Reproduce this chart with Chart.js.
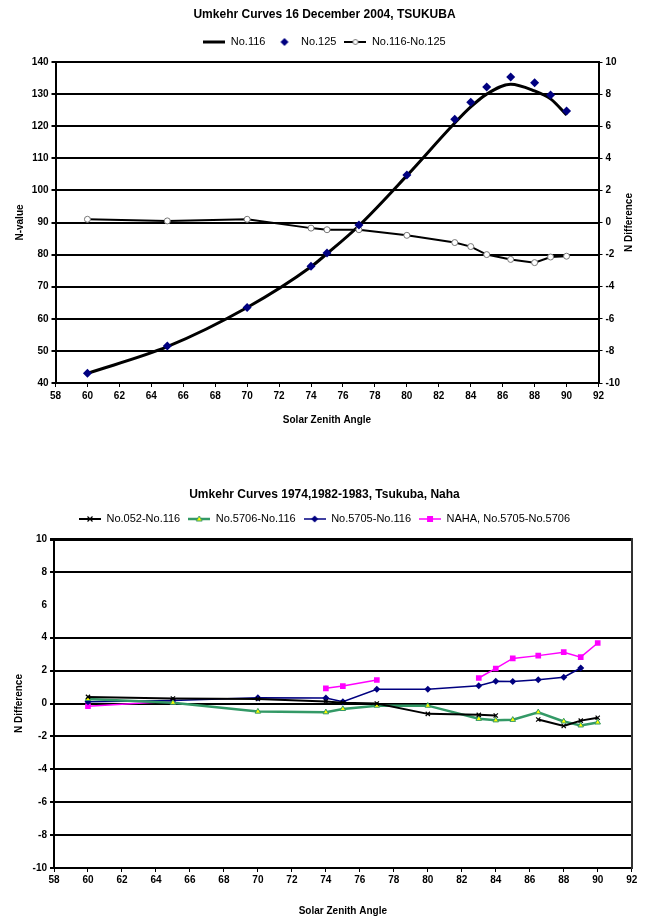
<!DOCTYPE html>
<html>
<head>
<meta charset="utf-8">
<script src="https://cdn.jsdelivr.net/npm/chart.js@4.4.1/dist/chart.umd.min.js"></script>
<style>
  html, body { margin: 0; padding: 0; background: #fff; }
  body { width: 645px; height: 917px; position: relative; overflow: hidden; }
  canvas { position: absolute; left: 0; }
  #top { top: 0; }
  #bottom { top: 470px; }
</style>
</head>
<body>
<canvas id="top" width="645" height="430"></canvas>
<canvas id="bottom" width="645" height="447"></canvas>
<script>
	'use strict';

	// ---- data: top chart (16 Dec 2004, Tsukuba) ----
	var sza = [60, 65, 70, 74, 75, 77, 80, 83, 84, 85, 86.5, 88, 89, 90];
	var no116 = [43, 51.3, 63.5, 76.2, 80.3, 89, 104.6, 121, 126, 130, 133.1, 131, 128.5, 123.5];
	var no125 = [43, 51.5, 63.5, 76.4, 80.5, 89.2, 104.8, 122.2, 127.5, 132.2, 135.3, 133.5, 129.7, 124.7];
	var diff116_125 = [0.2, 0.1, 0.2, -0.35, -0.45, -0.45, -0.8, -1.25, -1.5, -2.0, -2.3, -2.5, -2.15, -2.1];

	// ---- data: bottom chart (1974, 1982-1983, Tsukuba, Naha) ----
	var szaB = [60, 65, 70, 74, 75, 77, 80, 83, 84, 85, 86.5, 88, 89, 90];
	var d052_116 = [0.4, 0.3, 0.27, 0.12, 0.05, 0.0, -0.63, -0.69, -0.73, null, -0.97, -1.37, -1.04, -0.87];
	var d5706_116 = [0.28, 0.05, -0.49, -0.53, -0.33, -0.13, -0.13, -0.93, -1.02, -0.99, -0.53, -1.09, -1.33, -1.15];
	var d5705_116 = [0.1, 0.18, 0.35, 0.34, 0.11, 0.86, 0.86, 1.08, 1.35, 1.33, 1.45, 1.6, 2.16, null];
	var naha5705_5706 = [-0.17, 0.14, null, 0.92, 1.06, 1.43, null, 1.55, 2.13, 2.74, 2.91, 3.12, 2.82, 3.68];

	var NAVY = '#000080', GREEN = '#339966', MAGENTA = '#FF00FF', YELLOW = '#FFFF00';
	var FONT = '"Liberation Sans", Arial, sans-serif';

	Chart.defaults.font.family = FONT;
	Chart.defaults.color = '#000';
	Chart.defaults.animation = false;

	function pts(xs, ys) {
		return xs.map(function (x, i) { return { x: x, y: ys[i] }; });
	}

	// small legend icons: line with marker in the middle (Excel style)
	function icon(lineColor, lw, marker) {
		var c = document.createElement('canvas');
		c.width = 22; c.height = 10;
		var g = c.getContext('2d');
		if (lineColor) {
			g.strokeStyle = lineColor; g.lineWidth = lw;
			g.beginPath(); g.moveTo(0, 5); g.lineTo(22, 5); g.stroke();
		}
		if (marker) marker(g, 11, 5);
		return c;
	}
	function diamond(fill, r) {
		return function (g, x, y) {
			g.fillStyle = fill; g.beginPath();
			g.moveTo(x, y - r); g.lineTo(x + r, y); g.lineTo(x, y + r); g.lineTo(x - r, y); g.closePath(); g.fill();
		};
	}
	function circle(g, x, y) {
		g.fillStyle = '#fff'; g.strokeStyle = '#777'; g.lineWidth = 1;
		g.beginPath(); g.arc(x, y, 2.5, 0, Math.PI * 2); g.fill(); g.stroke();
	}
	function tri(g, x, y) {
		g.fillStyle = YELLOW; g.strokeStyle = GREEN; g.lineWidth = 1;
		g.beginPath(); g.moveTo(x, y - 3); g.lineTo(x + 3, y + 2); g.lineTo(x - 3, y + 2); g.closePath(); g.fill(); g.stroke();
	}
	function square(g, x, y) { g.fillStyle = MAGENTA; g.fillRect(x - 3, y - 3, 6, 6); }
	function cross(g, x, y) {
		g.strokeStyle = '#000'; g.lineWidth = 1.2; g.beginPath();
		g.moveTo(x - 2.5, y - 2.5); g.lineTo(x + 2.5, y + 2.5); g.moveTo(x + 2.5, y - 2.5); g.lineTo(x - 2.5, y + 2.5); g.stroke();
	}

	function legendOpts(icons) {
		return {
			display: true,
			labels: {
				usePointStyle: true, pointStyleWidth: 22, padding: 8,
				font: { size: 11 }, color: '#000',
				sort: function (a, b) { return a.datasetIndex - b.datasetIndex; },
				generateLabels: function (chart) {
					return Chart.defaults.plugins.legend.labels.generateLabels(chart).map(function (it) {
						it.pointStyle = icons[it.datasetIndex];
						return it;
					});
				}
			}
		};
	}

	// adds a fixed gap under the legend so the plot starts where the original does
	var legendGap = {
		id: 'legendGap',
		beforeInit: function (chart) {
			var fit = chart.legend.fit;
			chart.legend.fit = function () { fit.bind(chart.legend)(); this.height += 4.5; };
		}
	};

	// right axis title reads bottom-to-top like the left one
	var rightTitle = {
		id: 'rightTitle',
		afterDraw: function (chart) {
			var s = chart.scales.y1;
			if (!s) return;
			var ctx = chart.ctx;
			ctx.save();
			ctx.translate(s.right - 11.5, (s.top + s.bottom) / 2);
			ctx.rotate(-Math.PI / 2);
			ctx.font = 'bold 10px ' + FONT;
			ctx.fillStyle = '#000'; ctx.textAlign = 'center'; ctx.textBaseline = 'middle';
			ctx.fillText(s.options.title.text, 0, 0);
			ctx.restore();
		}
	};

	var tickFont = { size: 10, weight: 'bold' };
	var axisTitleFont = { size: 10, weight: 'bold' };

	function xScale(padTop, h, labelPad) {
		return {
			type: 'linear', min: 58, max: 92,
			ticks: { stepSize: 2, font: tickFont, padding: labelPad, maxRotation: 0, autoSkip: false },
			grid: { drawOnChartArea: false, drawTicks: true, tickLength: 4, color: '#000' },
			border: { color: '#000', width: 2 },
			title: { display: true, text: 'Solar Zenith Angle', font: axisTitleFont, padding: { top: padTop, bottom: 0 } },
			afterFit: function (s) { s.height = h; }
		};
	}

	// Top chart
	new Chart(document.getElementById('top').getContext('2d'), {
		type: 'line',
		data: {
			datasets: [
				{ label: 'No.116', data: pts(sza, no116), yAxisID: 'y', order: 2,
					borderColor: '#000', borderWidth: 3, pointRadius: 0, cubicInterpolationMode: 'monotone' },
				{ label: 'No.125', data: pts(sza, no125), yAxisID: 'y', order: 0, showLine: false,
					pointStyle: 'rectRot', pointRadius: 4.5, backgroundColor: NAVY, borderColor: NAVY, pointBorderWidth: 0 },
				{ label: 'No.116-No.125', data: pts(sza, diff116_125), yAxisID: 'y1', order: 1,
					borderColor: '#000', borderWidth: 2, pointRadius: 3, pointBackgroundColor: '#fff',
					pointBorderColor: '#777', pointBorderWidth: 1, tension: 0 }
			]
		},
		options: {
			responsive: false,
			layout: { padding: { left: 8, right: 4, top: 0, bottom: 4 } },
			plugins: {
				title: { display: true, text: 'Umkehr Curves 16 December 2004, TSUKUBA',
					font: { size: 12, weight: 'bold' }, color: '#000', padding: { top: 7.8, bottom: 6.3 } },
				legend: legendOpts([icon('#000', 3), icon(null, 0, diamond(NAVY, 4)), icon('#000', 2, circle)]),
				tooltip: { enabled: false }
			},
			scales: {
				x: xScale(4, 43, 3),
				y: {
					position: 'left', min: 40, max: 140,
					ticks: { stepSize: 10, font: tickFont, padding: 3 },
					grid: { color: '#000', lineWidth: 2, tickLength: 4 },
					border: { color: '#000', width: 2 },
					title: { display: true, text: 'N-value', font: axisTitleFont, padding: { top: 6, bottom: 0 } },
					afterFit: function (s) { s.width = 47.5; }
				},
				y1: {
					position: 'right', min: -10, max: 10,
					ticks: { stepSize: 2, font: tickFont, padding: 3 },
					grid: { drawOnChartArea: false, color: '#000', tickLength: 4 },
					border: { color: '#000', width: 2 },
					title: { display: false, text: 'N Difference' },
					afterFit: function (s) { s.width = 42.5; }
				}
			}
		},
		plugins: [legendGap, rightTitle]
	});

	// Bottom chart
	new Chart(document.getElementById('bottom').getContext('2d'), {
		type: 'line',
		data: {
			datasets: [
				{ label: 'No.052-No.116', data: pts(szaB, d052_116), borderColor: '#000', borderWidth: 2,
					pointStyle: 'crossRot', pointRadius: 3, pointBorderColor: '#000', pointBorderWidth: 1.2, spanGaps: false },
				{ label: 'No.5706-No.116', data: pts(szaB, d5706_116), borderColor: GREEN, borderWidth: 2.5,
					pointStyle: 'triangle', pointRadius: 3.2, pointBackgroundColor: YELLOW, pointBorderColor: GREEN, pointBorderWidth: 1 },
				{ label: 'No.5705-No.116', data: pts(szaB, d5705_116), borderColor: NAVY, borderWidth: 1.5,
					pointStyle: 'rectRot', pointRadius: 3.5, pointBackgroundColor: NAVY, pointBorderColor: NAVY, pointBorderWidth: 0 },
				{ label: 'NAHA, No.5705-No.5706', data: pts(szaB, naha5705_5706), borderColor: MAGENTA, borderWidth: 1.5,
					pointStyle: 'rect', pointRadius: 4, pointBackgroundColor: MAGENTA, pointBorderColor: MAGENTA, pointBorderWidth: 0 }
			]
		},
		options: {
			responsive: false,
			layout: { padding: { left: 8, right: 4, top: 0, bottom: 0 } },
			plugins: {
				title: { display: true, text: 'Umkehr Curves 1974,1982-1983, Tsukuba, Naha',
					font: { size: 12, weight: 'bold' }, color: '#000', padding: { top: 17.8, bottom: 3.3 } },
				legend: legendOpts([icon('#000', 2, cross), icon(GREEN, 2.5, tri), icon(NAVY, 1.5, diamond(NAVY, 3.5)), icon(MAGENTA, 1.5, square)]),
				tooltip: { enabled: false }
			},
			scales: {
				x: xScale(4, 49, 2),
				y: {
					position: 'left', min: -10, max: 10,
					ticks: { stepSize: 2, font: tickFont, padding: 3 },
					grid: {
						color: function (c) { return c.tick && c.tick.value === 6 ? 'rgba(0,0,0,0)' : '#000'; },
						lineWidth: function (c) { return c.tick && c.tick.value === 10 ? 3 : 2; },
						tickLength: 4
					},
					border: { color: '#000', width: 2 },
					title: { display: true, text: 'N Difference', font: axisTitleFont, padding: { top: 5, bottom: 0 } },
					afterFit: function (s) { s.width = 46; }
				},
				y2: {
					position: 'right', min: -10, max: 10,
					ticks: { display: false },
					grid: { drawOnChartArea: false, drawTicks: false },
					border: { color: '#333', width: 2 },
					afterFit: function (s) { s.width = 9.3; }
				}
			}
		},
		plugins: [legendGap]
	});
</script>
</body>
</html>
